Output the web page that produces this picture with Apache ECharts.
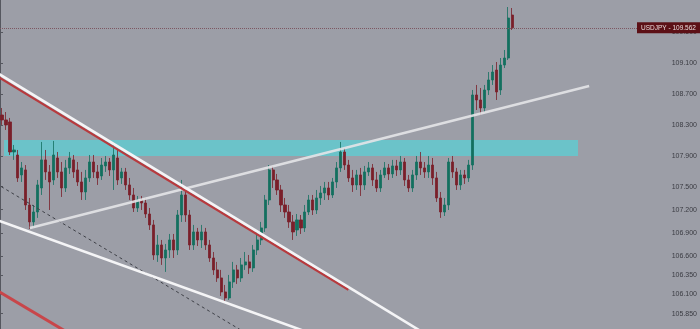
<!DOCTYPE html>
<html><head><meta charset="utf-8">
<script src="https://cdn.jsdelivr.net/npm/echarts@6/dist/echarts.min.js"></script>
<style>html,body{margin:0;padding:0;background:#9c9ea7}#c{width:700px;height:329px}</style>
</head><body><div id="c"></div><script>
// ---- data (prices) ----
const symbolName = 'USDJPY';
const lastPrice = 109.562;
const yMin = 105.651, yMax = 109.922;
const yTicks = [109.5, 109.1, 108.7, 108.3, 107.9, 107.5, 107.2, 106.9, 106.6, 106.35, 106.1, 105.85];

const opens = [108.429,108.365,108.339,107.949,107.910,107.651,107.716,107.261,107.041,107.170,
107.482,107.846,107.690,107.586,107.871,107.690,107.482,107.742,107.846,107.716,
107.560,107.430,107.612,107.819,107.690,107.638,107.768,107.819,107.716,107.871,
107.612,107.690,107.521,107.391,107.222,107.326,107.287,107.144,107.002,106.612,
106.742,106.573,106.677,106.807,106.677,107.131,107.391,107.131,106.742,106.911,
106.807,106.911,106.742,106.573,106.418,106.314,106.132,106.054,106.262,106.418,
106.314,106.483,106.522,106.444,106.677,106.807,106.963,107.326,107.716,107.586,
107.456,107.261,107.170,107.041,106.937,107.067,106.963,107.170,107.326,107.196,
107.352,107.417,107.482,107.391,107.560,107.742,107.949,107.780,107.612,107.521,
107.651,107.521,107.690,107.742,107.586,107.482,107.651,107.742,107.664,107.768,
107.716,107.819,107.586,107.482,107.651,107.819,107.742,107.690,107.780,107.612,
107.352,107.170,107.261,107.819,107.690,107.521,107.651,107.612,107.780,108.689,
108.624,108.520,108.754,108.884,109.013,108.754,109.078,109.169,109.727];

const closes = [108.365,108.300,107.949,107.975,107.612,107.742,107.261,107.041,107.170,107.521,
107.846,107.690,107.560,107.910,107.690,107.482,107.742,107.871,107.690,107.560,
107.430,107.612,107.819,107.690,107.612,107.780,107.819,107.716,107.910,107.586,
107.690,107.521,107.391,107.222,107.326,107.287,107.144,107.002,106.612,106.742,
106.573,106.677,106.807,106.677,107.131,107.391,107.131,106.742,106.911,106.807,
106.911,106.742,106.573,106.418,106.314,106.132,106.054,106.262,106.418,106.314,
106.483,106.522,106.444,106.677,106.807,106.963,107.326,107.716,107.586,107.456,
107.261,107.170,107.041,106.911,107.067,106.963,107.170,107.326,107.196,107.352,
107.417,107.482,107.391,107.560,107.742,107.949,107.780,107.612,107.521,107.651,
107.521,107.690,107.742,107.586,107.482,107.651,107.742,107.664,107.768,107.716,
107.819,107.586,107.482,107.651,107.819,107.742,107.690,107.780,107.612,107.352,
107.170,107.261,107.819,107.690,107.521,107.651,107.612,107.780,108.689,108.624,
108.520,108.754,108.884,108.987,108.728,109.078,109.169,109.688,109.562];

const highs = [108.520,108.468,108.391,108.040,107.975,107.819,107.780,107.352,107.261,107.586,
108.079,107.975,107.780,108.092,107.949,107.819,107.846,107.949,107.910,107.819,
107.690,107.716,107.910,107.910,107.780,107.871,107.897,107.871,108.040,107.975,
107.742,107.742,107.612,107.482,107.378,107.378,107.352,107.222,107.067,106.872,
106.807,106.755,106.885,106.885,107.196,107.586,107.456,107.196,107.002,106.963,
107.002,106.963,106.807,106.651,106.522,106.418,106.223,106.353,106.522,106.483,
106.573,106.651,106.612,106.742,106.911,107.041,107.391,107.780,107.768,107.664,
107.521,107.352,107.261,107.131,107.144,107.131,107.261,107.391,107.391,107.456,
107.508,107.560,107.560,107.612,107.819,108.079,108.001,107.846,107.716,107.716,
107.742,107.768,107.819,107.793,107.690,107.716,107.819,107.793,107.846,107.846,
107.897,107.871,107.651,107.716,107.897,107.949,107.819,107.897,107.871,107.690,
107.430,107.352,107.871,107.897,107.742,107.716,107.716,107.846,108.754,108.819,
108.780,108.819,108.987,109.078,109.117,109.169,109.273,109.831,109.818];

const lows = [108.300,108.235,107.910,107.846,107.560,107.560,107.196,106.950,106.963,107.093,
107.391,107.586,107.196,107.521,107.612,107.365,107.430,107.664,107.612,107.508,
107.326,107.326,107.560,107.612,107.521,107.586,107.690,107.638,107.456,107.521,
107.534,107.456,107.326,107.170,107.170,107.196,107.093,106.937,106.548,106.522,
106.483,106.392,106.573,106.573,106.612,107.041,107.041,106.677,106.677,106.729,
106.703,106.677,106.522,106.353,106.262,106.080,106.002,106.028,106.184,106.236,
106.262,106.418,106.366,106.392,106.612,106.742,106.911,107.261,107.482,107.391,
107.170,107.093,106.963,106.807,106.859,106.885,106.911,107.131,107.131,107.144,
107.261,107.326,107.326,107.352,107.482,107.690,107.716,107.560,107.430,107.456,
107.378,107.456,107.638,107.508,107.430,107.430,107.612,107.586,107.612,107.638,
107.651,107.508,107.430,107.430,107.586,107.651,107.612,107.612,107.521,107.300,
107.093,107.118,107.196,107.612,107.456,107.456,107.534,107.560,107.716,108.494,
108.429,108.468,108.689,108.819,108.624,108.689,109.039,109.143,109.533];

// drawings, in (slot, price) coordinates
const nSlots = 167;
const channelTopRed = [[-1, 108.942], [87.4, 106.160]];
const channelTop    = [[-1, 108.985], [107.4, 105.565]];
const channelBottom = [[-1, 107.070], [77.4, 105.605]];
const channelDashed = [[-1, 107.540], [61.2, 105.613]];
const lowerRed      = [[-1, 106.160], [16.3, 105.626]];
const risingLine    = [[7.5, 106.963], [147.8, 108.806]];
const zoneBand      = [1.0, 145.0, 108.105, 107.897]; // x0, x1, yTop, yBottom

const categories = Array.from({length: nSlots}, (_, i) => 'k' + i);
const candles = opens.map((o, i) => [o, closes[i], lows[i], highs[i]]);

const chart = echarts.init(document.getElementById('c'));
function lineSeries(data, color, width, type, z) {
  return {type: 'line', xAxisIndex: 1, yAxisIndex: 0, data: data, symbol: 'none', silent: true,
    clip: true, z: z || 5, lineStyle: {color: color, width: width, type: type || 'solid'}};
}
const option = {
  backgroundColor: '#9c9ea7',
  animation: false,
  grid: {left: 0, right: 31, top: 0, bottom: 0},
  xAxis: [
    {type: 'category', data: categories, show: false, boundaryGap: true},
    {type: 'value', min: 0, max: nSlots, show: false}
  ],
  yAxis: {
    type: 'value', position: 'right', min: yMin, max: yMax,
    splitLine: {show: false},
    axisLine: {show: true, lineStyle: {color: '#55575f', width: 1}},
    axisTick: {show: true, customValues: yTicks, length: 3, lineStyle: {color: '#55575f'}},
    axisLabel: {customValues: yTicks, formatter: v => v.toFixed(3), color: '#3a3b42',
      fontSize: 7, margin: 6, fontFamily: 'Liberation Sans'}
  },
  series: [
    {
      type: 'candlestick', data: candles, barWidth: 2.6, z: 2,
      itemStyle: {color: '#13705f', color0: '#7a1f2a', borderColor: '#13705f', borderColor0: '#7a1f2a', borderWidth: 0.8},
      markLine: {silent: true, symbol: 'none', label: {show: false},
        lineStyle: {color: '#7d5762', width: 1, type: [1, 1]},
        data: [{yAxis: lastPrice}]}
    },
    lineSeries(channelDashed, '#3f4148', 1, [3, 3], 4),
    lineSeries(risingLine, 'rgba(228,228,232,0.9)', 2.5, 'solid', 5),
    lineSeries(channelTopRed, '#b83a3e', 2.2, 'solid', 5),
    lineSeries(channelTop, '#f4f4f6', 2.6, 'solid', 6),
    lineSeries(channelBottom, '#f4f4f6', 2.6, 'solid', 6),
    lineSeries(lowerRed, '#c8464a', 3, 'solid', 6),
    {
      type: 'line', xAxisIndex: 1, yAxisIndex: 0, data: [], silent: true, z: 7,
      markArea: {silent: true, itemStyle: {color: 'rgba(72,222,226,0.58)'},
        data: [[{coord: [zoneBand[0], zoneBand[2]]}, {coord: [zoneBand[1], zoneBand[3]]}]]}
    }
  ]
};
chart.setOption(option);

const py = chart.convertToPixel({yAxisIndex: 0}, lastPrice);
chart.setOption({graphic: [
  {type: 'rect', z: 100, shape: {x: 637, y: py - 5.5, width: 70, height: 11}, style: {fill: '#5c1016'}},
  {type: 'text', z: 101, x: 641, y: py, style: {text: symbolName + ' - ' + lastPrice.toFixed(3),
    fill: '#eadcdc', fontSize: 6.5, fontFamily: 'Liberation Sans', verticalAlign: 'middle'}}
]});
</script></body></html>
